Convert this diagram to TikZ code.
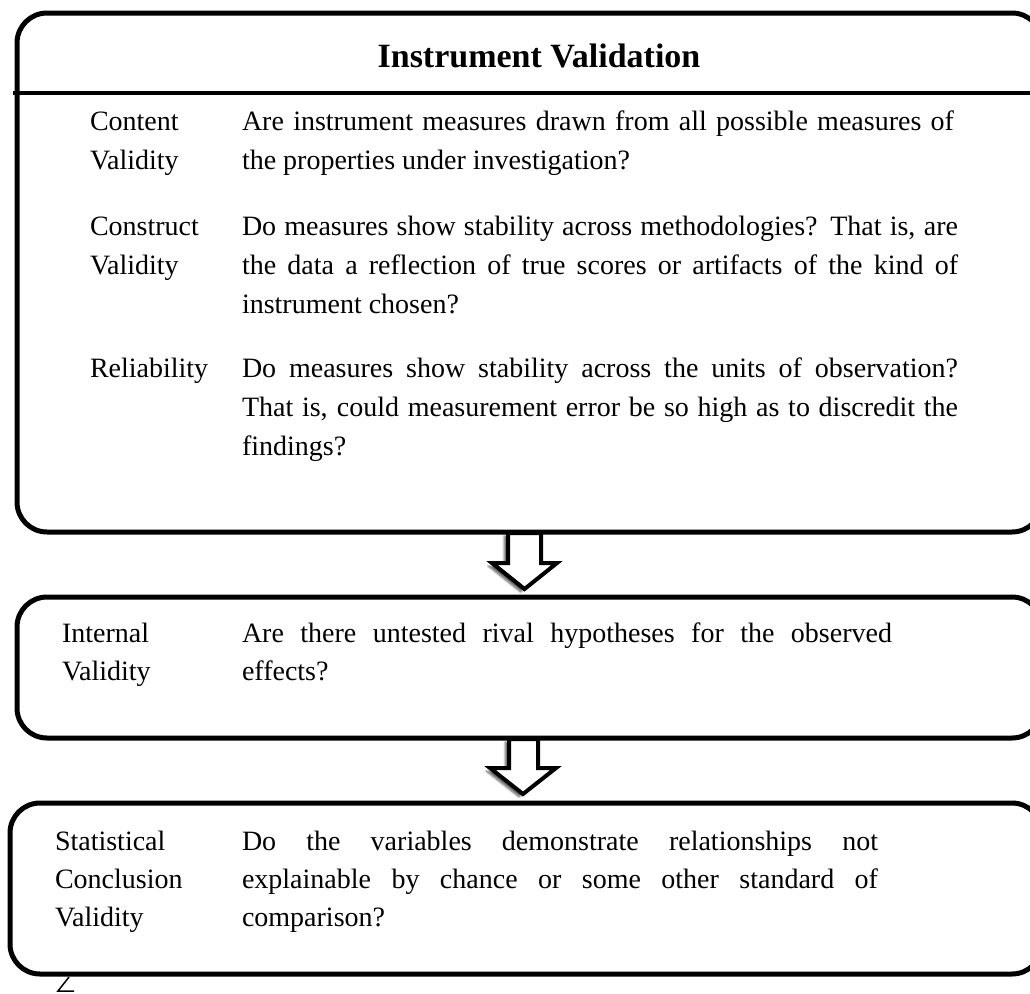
\documentclass[tikz,border=0pt]{standalone}
\usepackage{fontspec}
\setmainfont{Liberation Serif}
\usetikzlibrary{shadows.blur}

% body text size and the two kinds of line spacing used in the panels
\newcommand\txtA{\fontsize{28}{39}\selectfont}
\newcommand\txtB{\fontsize{28}{38}\selectfont}
\newcommand\titlefont{\fontsize{34}{40}\selectfont\bfseries}
% a line set flush to both margins
\newcommand\fullline[1]{\makebox[\linewidth][s]{#1}}

\begin{document}
\begin{tikzpicture}[x=1pt,y=-1pt,
  panel/.style={line width=5pt, rounded corners=30pt},
  rule/.style={line width=4pt},
  downarrow/.style={line width=4pt, fill=white, line join=miter,
    blur shadow={shadow xshift=-4pt, shadow yshift=-3pt,
      shadow blur steps=6, shadow opacity=60}},
  txt/.style={anchor=base west, inner sep=0pt, outer sep=0pt},
]
\useasboundingbox (0,0) rectangle (1030,993);
\clip (0,0) rectangle (1030,993);

% ---- panels ----
\draw[panel] (17,13) rectangle (1042,532);
\draw[rule] (13,93) -- (1030,93);
\draw[panel] (17,597) rectangle (1042,738);
\draw[panel] (10,803) rectangle (1042,974);

% ---- title ----
\node[anchor=base, inner sep=0pt] (title) at (539,67) {\titlefont Instrument Validation};

% ---- first panel ----
\node[txt] (lblContent) at (90,130) {\parbox[t]{140pt}{\txtA Content\\Validity}};
\node[txt] (txtContent) at (242,130) {\parbox[t]{712pt}{\txtA
  \fullline{Are instrument measures drawn from all possible measures of}\\
  the properties under investigation?}};

\node[txt] (lblConstruct) at (90,235) {\parbox[t]{140pt}{\txtA Construct\\Validity}};
\node[txt] (txtConstruct) at (242,235) {\parbox[t]{716pt}{\txtA
  \fullline{Do measures show stability across methodologies? That is, are}\\
  \fullline{the data a reflection of true scores or artifacts of the kind of}\\
  instrument chosen?}};

\node[txt] (lblReliability) at (90,377) {\parbox[t]{140pt}{\txtA Reliability}};
\node[txt] (txtReliability) at (242,377) {\parbox[t]{716pt}{\txtA
  \fullline{Do measures show stability across the units of observation?}\\
  \fullline{That is, could measurement error be so high as to discredit the}\\
  findings?}};

% ---- second panel ----
\node[txt] (lblInternal) at (62,642) {\parbox[t]{140pt}{\txtB Internal\\Validity}};
\node[txt] (txtInternal) at (242,642) {\parbox[t]{650pt}{\txtB
  \fullline{Are there untested rival hypotheses for the observed}\\
  effects?}};

% ---- third panel ----
\node[txt] (lblStatistical) at (55,850) {\parbox[t]{160pt}{\txtB Statistical\\Conclusion\\Validity}};
\node[txt] (txtStatistical) at (242,850) {\parbox[t]{636pt}{\txtB
  \fullline{Do the variables demonstrate relationships not}\\
  \fullline{explainable by chance or some other standard of}\\
  comparison?}};

% ---- block arrows between the panels ----
\draw[downarrow] (508,533) -- (508,563) -- (492,563) -- (524.5,589)
  -- (557,563) -- (541,563) -- (541,533) -- cycle;
\draw[downarrow] (509,739) -- (509,768) -- (490,768) -- (523,794)
  -- (556,768) -- (538,768) -- (538,739) -- cycle;

% ---- small stroke below the last panel ----
\draw[line width=1.5pt] (69,977) -- (58,991) -- (74,991);
\end{tikzpicture}
\end{document}
